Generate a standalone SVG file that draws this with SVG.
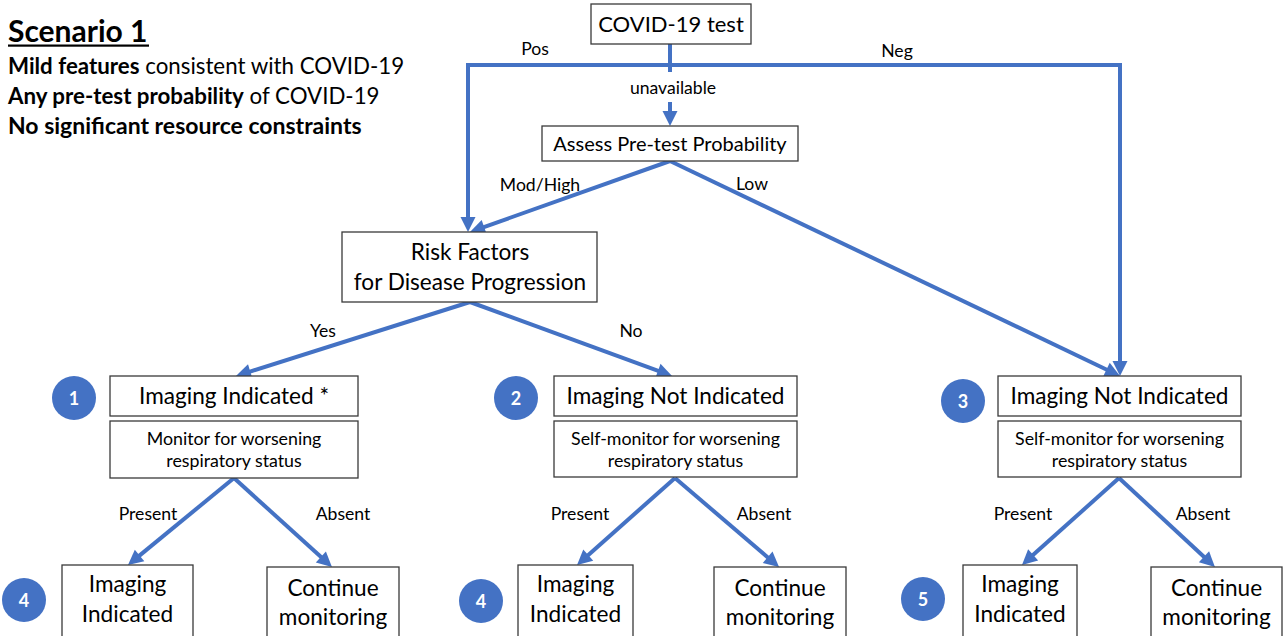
<svg xmlns="http://www.w3.org/2000/svg" width="1285" height="636" viewBox="0 0 1285 636">
<style>
text{font-family:Lato,"Liberation Sans",sans-serif;fill:#000}
.box{fill:#fff;stroke:#3a3a3a;stroke-width:1.3}
.big{font-size:22.6px;text-anchor:middle}
.mid{font-size:20px;text-anchor:middle}
.sm{font-size:17.8px;text-anchor:middle}
.lbl{font-size:17.6px;text-anchor:middle}
.hd{font-size:22.3px}
.b{font-weight:bold}
.num{font-size:18px;font-weight:bold;fill:#fff;text-anchor:middle}
.badge{fill:#4472C4}
.con{fill:none;stroke:#4472C4;stroke-width:4;marker-end:url(#ah)}
.plain{fill:none;stroke:#4472C4;stroke-width:4}
</style>
<defs>
<marker id="ah" markerUnits="userSpaceOnUse" markerWidth="16" markerHeight="16" viewBox="0 -8 16 16" refX="1" refY="0" orient="auto" overflow="visible">
<path d="M0,-7.5 L15,0 L0,7.5 z" fill="#4472C4"/>
</marker>
</defs>
<rect width="1285" height="636" fill="#fff"/>
<g id="header">
<text x="8" y="42" style="font-size:30px;font-weight:bold">Scenario 1</text>
<rect x="8" y="44.5" width="141" height="2.2" fill="#000"/>
<text class="hd" x="8" y="74"><tspan class="b">Mild features</tspan> consistent with COVID-19</text>
<text class="hd" x="8" y="104"><tspan class="b">Any pre-test probability</tspan> of COVID-19</text>
<text class="hd b" x="8" y="134" style="font-size:23px">No significant resource constraints</text>
</g>
<g id="connectors">
<line class="plain" x1="670" y1="44" x2="670" y2="72"/>
<path class="con" d="M670,65 H468 V218"/>
<path class="con" d="M670,65 H1120 V362"/>
<line class="con" x1="670" y1="102" x2="670" y2="112"/>
<line class="con" x1="670" y1="161" x2="483.2" y2="227.3"/>
<line class="con" x1="670" y1="161" x2="1107.4" y2="370"/>
<line class="con" x1="470" y1="302" x2="249.3" y2="371.8"/>
<line class="con" x1="470" y1="302" x2="658.9" y2="371.2"/>
<line class="con" x1="234" y1="478" x2="138.8" y2="556.1"/>
<line class="con" x1="234" y1="478" x2="321.6" y2="557.6"/>
<line class="con" x1="675" y1="478" x2="587.5" y2="555.7"/>
<line class="con" x1="675" y1="478" x2="768.4" y2="557.9"/>
<line class="con" x1="1119" y1="478" x2="1032.4" y2="555.6"/>
<line class="con" x1="1119" y1="478" x2="1204.7" y2="557.5"/>
<text class="lbl" x="535" y="55">Pos</text>
<text class="lbl" x="897" y="57">Neg</text>
<text class="lbl" x="673" y="94">unavailable</text>
<text class="lbl" x="540" y="191">Mod/High</text>
<text class="lbl" x="752" y="190">Low</text>
<text class="lbl" x="323" y="337">Yes</text>
<text class="lbl" x="631" y="337">No</text>
<text class="lbl" x="148" y="520">Present</text>
<text class="lbl" x="343" y="520">Absent</text>
<text class="lbl" x="580" y="520">Present</text>
<text class="lbl" x="764" y="520">Absent</text>
<text class="lbl" x="1023" y="520">Present</text>
<text class="lbl" x="1203" y="520">Absent</text>
</g>
<g id="covid-test">
<rect class="box" x="591" y="4" width="160" height="40"/>
<text class="big" x="671" y="32" style="font-size:22px">COVID-19 test</text>
</g>
<g id="assess">
<rect class="box" x="542" y="126" width="256" height="35"/>
<text class="mid" x="670" y="151">Assess Pre-test Probability</text>
</g>
<g id="risk">
<rect class="box" x="342" y="232" width="255" height="70"/>
<text class="big" x="470" y="260">Risk Factors</text>
<text class="big" x="470" y="290">for Disease Progression</text>
</g>
<g id="n1">
<circle class="badge" cx="74" cy="398" r="22"/>
<text class="num" x="74" y="405">1</text>
<rect class="box" x="110" y="376" width="248" height="40"/>
<text class="big" x="234" y="404">Imaging Indicated *</text>
<rect class="box" x="110" y="421" width="248" height="57"/>
<text class="sm" x="234" y="445">Monitor for worsening</text>
<text class="sm" x="234" y="467">respiratory status</text>
</g>
<g id="n2">
<circle class="badge" cx="516" cy="398" r="22"/>
<text class="num" x="516" y="405">2</text>
<rect class="box" x="554" y="376" width="243" height="40"/>
<text class="big" x="675.5" y="404">Imaging Not Indicated</text>
<rect class="box" x="554" y="421" width="243" height="56"/>
<text class="sm" x="675.5" y="445">Self-monitor for worsening</text>
<text class="sm" x="675.5" y="467">respiratory status</text>
</g>
<g id="n3">
<circle class="badge" cx="963" cy="401" r="22"/>
<text class="num" x="963" y="408">3</text>
<rect class="box" x="998" y="376" width="243" height="40"/>
<text class="big" x="1119.5" y="404">Imaging Not Indicated</text>
<rect class="box" x="998" y="421" width="243" height="56"/>
<text class="sm" x="1119.5" y="445">Self-monitor for worsening</text>
<text class="sm" x="1119.5" y="467">respiratory status</text>
</g>
<g id="n4a">
<circle class="badge" cx="24" cy="600" r="22"/>
<text class="num" x="24" y="607">4</text>
<rect class="box" x="62" y="565" width="131" height="80"/>
<text class="big" x="127.5" y="592">Imaging</text>
<text class="big" x="127.5" y="622">Indicated</text>
</g>
<g id="c1">
<rect class="box" x="267" y="567" width="132" height="80"/>
<text class="big" x="333" y="596">Continue</text>
<text class="big" x="333" y="625">monitoring</text>
</g>
<g id="n4b">
<circle class="badge" cx="481" cy="601" r="22"/>
<text class="num" x="481" y="608">4</text>
<rect class="box" x="518" y="565" width="115" height="80"/>
<text class="big" x="575.5" y="592">Imaging</text>
<text class="big" x="575.5" y="622">Indicated</text>
</g>
<g id="c2">
<rect class="box" x="714" y="567" width="132" height="80"/>
<text class="big" x="780" y="596">Continue</text>
<text class="big" x="780" y="625">monitoring</text>
</g>
<g id="n5">
<circle class="badge" cx="923" cy="599" r="22"/>
<text class="num" x="923" y="606">5</text>
<rect class="box" x="963" y="565" width="114" height="80"/>
<text class="big" x="1020" y="592">Imaging</text>
<text class="big" x="1020" y="622">Indicated</text>
</g>
<g id="c3">
<rect class="box" x="1151" y="567" width="131" height="80"/>
<text class="big" x="1216.5" y="596">Continue</text>
<text class="big" x="1216.5" y="625">monitoring</text>
</g>
</svg>
